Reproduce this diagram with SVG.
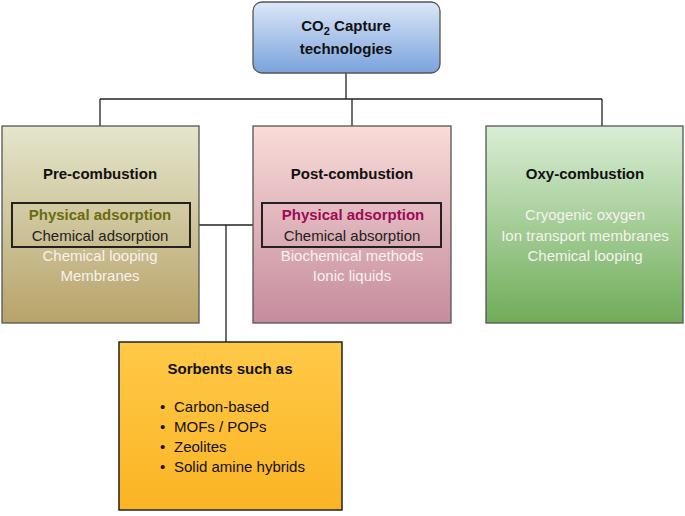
<svg xmlns="http://www.w3.org/2000/svg" width="685" height="516" viewBox="0 0 685 516">
<defs>
<linearGradient id="gT" x1="0" y1="0" x2="0" y2="1"><stop offset="0" stop-color="#dbe7f8"/><stop offset="1" stop-color="#7aa2dc"/></linearGradient>
<linearGradient id="gPre" x1="0" y1="0" x2="0" y2="1"><stop offset="0" stop-color="#e4e6cb"/><stop offset="1" stop-color="#b8a36a"/></linearGradient>
<linearGradient id="gPost" x1="0" y1="0" x2="0" y2="1"><stop offset="0" stop-color="#f9dcd8"/><stop offset="1" stop-color="#c58b9d"/></linearGradient>
<linearGradient id="gOxy" x1="0" y1="0" x2="0" y2="1"><stop offset="0" stop-color="#d9eed5"/><stop offset="1" stop-color="#70ac59"/></linearGradient>
<linearGradient id="gS" x1="0" y1="0" x2="0" y2="1"><stop offset="0" stop-color="#ffc948"/><stop offset="1" stop-color="#fbb424"/></linearGradient>
</defs>
<style>
text{font-family:"Liberation Sans",Arial,sans-serif;font-size:15px;text-anchor:middle}
.h{font-weight:bold;fill:#111}
.w{fill:#f6f2ee}
.box{stroke:#555;stroke-width:1.3}
.in{fill:none;stroke:#222;stroke-width:2}
.ln{fill:none;stroke:#222;stroke-width:1.3}
</style>
<g id="connectors">
<path class="ln" d="M346 73V99M100 99H602M100 99V126M352 99V126M602 99V126M190 225H262M226 225V342"/>
</g>
<g id="top"><rect x="253" y="2" width="187" height="71" rx="9" fill="url(#gT)" class="box"/>
<text x="346" y="31" class="h">CO<tspan font-size="11" dy="4">2</tspan><tspan dy="-4"> Capture</tspan></text>
<text x="346" y="54" class="h">technologies</text></g>
<g id="pre"><rect x="2" y="126" width="197" height="197" fill="url(#gPre)" class="box"/>
<text x="100" y="179" class="h">Pre-combustion</text>
<rect x="12" y="203" width="178" height="44" class="in"/>
<text x="100" y="220" font-weight="bold" fill="#6b6b12">Physical adsorption</text>
<text x="100" y="241" fill="#222">Chemical adsorption</text>
<text x="100" y="261" class="w">Chemical looping</text>
<text x="100" y="281" class="w">Membranes</text></g>
<g id="post"><rect x="253" y="126" width="198" height="197" fill="url(#gPost)" class="box"/>
<text x="352" y="179" class="h">Post-combustion</text>
<rect x="262" y="203" width="179" height="44" class="in"/>
<text x="353" y="220" font-weight="bold" fill="#9c0c55">Physical adsorption</text>
<text x="352" y="241" fill="#222">Chemical absorption</text>
<text x="352" y="261" class="w">Biochemical methods</text>
<text x="352" y="281" class="w">Ionic liquids</text></g>
<g id="oxy"><rect x="486" y="126" width="197" height="197" fill="url(#gOxy)" class="box"/>
<text x="585" y="179" class="h">Oxy-combustion</text>
<text x="585" y="220" class="w">Cryogenic oxygen</text>
<text x="585" y="241" class="w">Ion transport membranes</text>
<text x="585" y="261" class="w">Chemical looping</text></g>
<g id="sorbents"><rect x="119" y="342" width="223" height="168" fill="url(#gS)" stroke="#222" stroke-width="1.5"/>
<text x="230" y="374" class="h">Sorbents such as</text>
<g text-anchor="start" fill="#111">
<text x="160" y="412" style="text-anchor:start">•</text><text x="174" y="412" style="text-anchor:start">Carbon-based</text>
<text x="160" y="432" style="text-anchor:start">•</text><text x="174" y="432" style="text-anchor:start">MOFs / POPs</text>
<text x="160" y="452" style="text-anchor:start">•</text><text x="174" y="452" style="text-anchor:start">Zeolites</text>
<text x="160" y="472" style="text-anchor:start">•</text><text x="174" y="472" style="text-anchor:start">Solid amine hybrids</text>
</g></g>
</svg>
